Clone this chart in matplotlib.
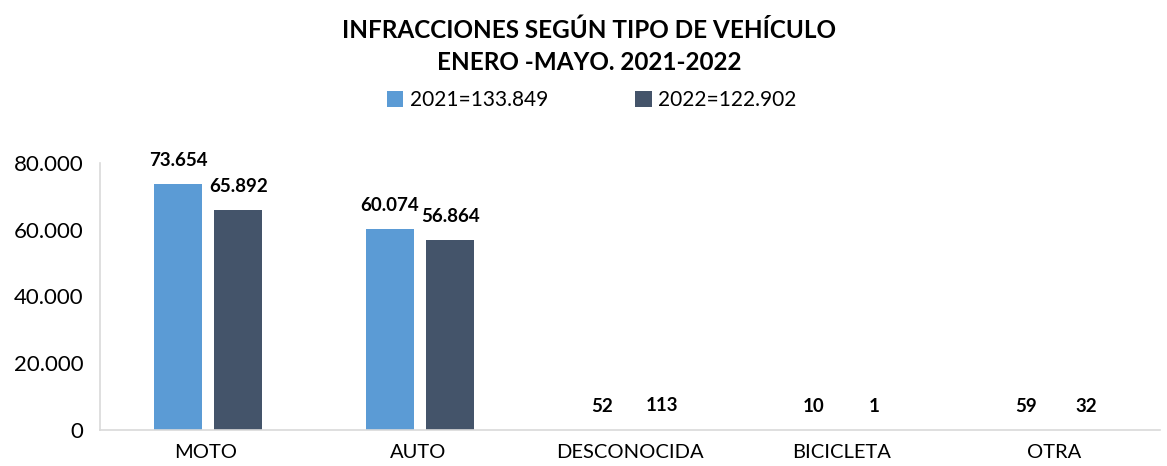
import numpy as np
import matplotlib.pyplot as plt

plt.rcParams['font.family'] = ['Lato', 'DejaVu Sans']

# data
categorias = ["MOTO", "AUTO", "DESCONOCIDA", "BICICLETA", "OTRA"]
v2021 = [73654, 60074, 52, 10, 59]
v2022 = [65892, 56864, 113, 1, 32]
leyenda = ["2021=133.849", "2022=122.902"]
yticks = [0, 20000, 40000, 60000, 80000]

def fmt(v):
    return "{:,}".format(v).replace(",", ".")

fig = plt.figure(figsize=(11.67, 4.66), dpi=100)
ax = fig.add_axes([0.0857, 0.0773, 0.908, 0.573])

x = np.arange(len(categorias))
w = 0.226
off = 0.142
b1 = ax.bar(x - off + 0.01, v2021, w, color="#5B9BD5", label=leyenda[0])
b2 = ax.bar(x + off + 0.01, v2022, w, color="#44546A", label=leyenda[1])

for bars, vals in [(b1, v2021), (b2, v2022)]:
    for r, v in zip(bars, vals):
        ax.annotate(fmt(v), (r.get_x() + r.get_width() / 2, v),
                    xytext=(0, 11), textcoords="offset points",
                    ha="center", va="bottom", fontsize=13.5, fontweight="bold")

ax.set_xlim(-0.5, len(categorias) - 0.5)
ax.set_ylim(0, 80000)
ax.set_yticks(yticks)
ax.set_yticklabels([fmt(t) for t in yticks], fontsize=16)
ax.set_xticks(x)
ax.set_xticklabels(categorias, fontsize=14.5)
ax.tick_params(length=0, pad=10)
ax.tick_params(axis="y", pad=12)

for s in ["top", "right"]:
    ax.spines[s].set_visible(False)
for s in ["left", "bottom"]:
    ax.spines[s].set_color("#D9D9D9")
    ax.spines[s].set_linewidth(1.2)

fig.text(0.505, 0.935, "INFRACCIONES SEGÚN TIPO DE VEHÍCULO", ha="center", va="center",
         fontsize=17.5, fontweight="bold")
fig.text(0.505, 0.865, "ENERO -MAYO. 2021-2022", ha="center", va="center",
         fontsize=17.5, fontweight="bold")

fig.legend(loc="center", bbox_to_anchor=(0.507, 0.785), ncol=2, frameon=False,
           fontsize=15, handlelength=0.8, handleheight=0.8, handletextpad=0.3,
           columnspacing=4.2)

fig.savefig("out.png", dpi=100)
